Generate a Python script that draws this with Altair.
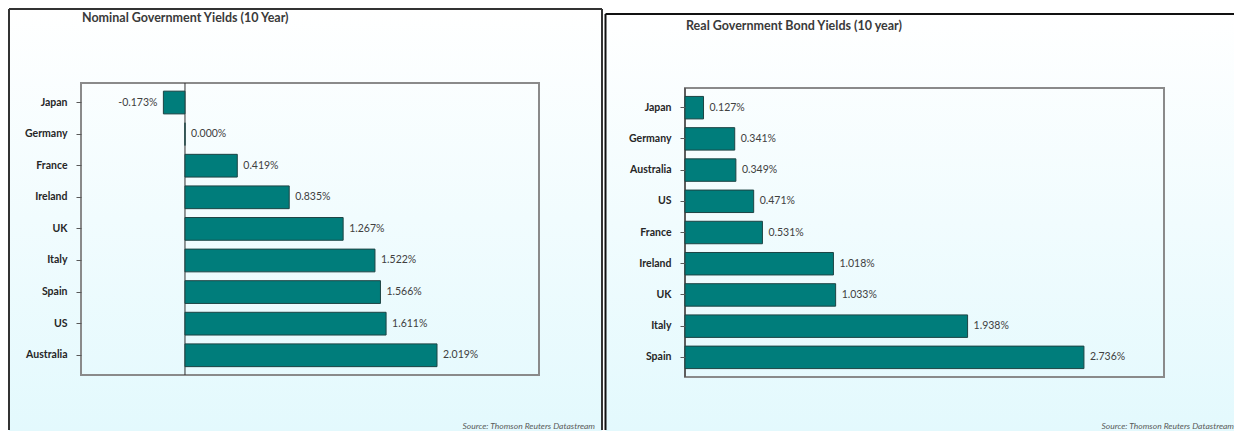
import altair as alt
import pandas as pd

# ---- data ----
nominal_countries = ["Japan", "Germany", "France", "Ireland", "UK", "Italy", "Spain", "US", "Australia"]
nominal_values = [-0.173, 0.000, 0.419, 0.835, 1.267, 1.522, 1.566, 1.611, 2.019]

real_countries = ["Japan", "Germany", "Australia", "US", "France", "Ireland", "UK", "Italy", "Spain"]
real_values = [0.127, 0.341, 0.349, 0.471, 0.531, 1.018, 1.033, 1.938, 2.736]

titles = ["Nominal Government Yields (10 Year)", "Real Government Bond Yields (10 year)"]
source_text = "Source: Thomson Reuters Datastream"

FONT = "Lato"
BAR_FILL = "#007d7b"
BAR_STROKE = "#1d4444"

gradient = alt.LinearGradient(
    gradient="linear",
    stops=[alt.GradientStop(color="#ffffff", offset=0),
           alt.GradientStop(color="#e3f9fd", offset=1)],
    x1=0, x2=0, y1=0, y2=1,
)


def one():
    return alt.Data(values=[{"k": 1, "zero": 0}])


def panel(countries, values, title, domain, W, H, box_top, box_bottom, pad_outer, band_align,
          frame_left, frame_top, frame_right, frame_color, right_edge_rule,
          title_y, source_x):
    df = pd.DataFrame({
        "country": countries,
        "value": values,
        "zero": [0.0] * len(values),
        "label": [f"{v:.3f}%" for v in values],
    })
    base = alt.Chart(df)
    y = alt.Y(
        "country:N", sort=countries, title=None,
        scale=alt.Scale(paddingInner=0.28, paddingOuter=pad_outer, align=band_align),
        axis=alt.Axis(domain=False, grid=False, ticks=True, tickSize=5, tickColor="#595959",
                      labelFont=FONT, labelFontWeight="bold", labelFontSize=10.5,
                      labelColor="#262626", labelPadding=9, zindex=1),
    )
    x = alt.X("value:Q", title=None, axis=None,
              scale=alt.Scale(domain=domain, nice=False, zero=False))

    bg = alt.Chart(one()).mark_rect(fill=gradient).encode(
        x=alt.value(frame_left), x2=alt.value(right_edge_rule),
        y=alt.value(frame_top), y2=alt.value(H + 54),
    )
    frame_lines = []
    frame_lines.append(alt.Chart(one()).mark_rule(color=frame_color, strokeWidth=2).encode(
        x=alt.value(frame_left), x2=alt.value(right_edge_rule),
        y=alt.value(frame_top), y2=alt.value(frame_top)))
    frame_lines.append(alt.Chart(one()).mark_rule(color=frame_color, strokeWidth=2).encode(
        x=alt.value(frame_left), x2=alt.value(frame_left),
        y=alt.value(frame_top), y2=alt.value(H + 53)))
    if frame_right is not None:
        frame_lines.append(alt.Chart(one()).mark_rule(color=frame_color, strokeWidth=2).encode(
            x=alt.value(frame_right), x2=alt.value(frame_right),
            y=alt.value(frame_top), y2=alt.value(H + 53)))

    title_mark = alt.Chart(one()).mark_text(
        text=title, font=FONT, fontWeight="bold", fontSize=12.5, color="#3a3a3a",
        align="left", baseline="middle",
    ).encode(x=alt.value(1), y=alt.value(title_y))

    src = alt.Chart(one()).mark_text(
        text=source_text, font=FONT, fontStyle="italic", fontSize=8.5, color="#595959",
        align="right", baseline="middle",
    ).encode(x=alt.value(source_x), y=alt.value(H + 49))

    box = alt.Chart(one()).mark_rect(fillOpacity=0, stroke="#8a8a8a", strokeWidth=2).encode(
        x=alt.value(0), x2=alt.value(W), y=alt.value(box_top), y2=alt.value(box_bottom))

    zero = alt.Chart(one()).mark_rule(color="#303030", strokeWidth=1).encode(
        x=alt.X("zero:Q", scale=alt.Scale(domain=domain, nice=False, zero=False), axis=None),
        y=alt.value(box_top), y2=alt.value(box_bottom))

    bars = base.mark_bar(fill=BAR_FILL, stroke=BAR_STROKE, strokeWidth=1).encode(
        x=x, x2="zero:Q", y=y)

    pos_lab = base.transform_filter("datum.value >= 0").mark_text(
        align="left", baseline="middle", dx=6, font=FONT, fontSize=10.5, color="#404040",
    ).encode(x=x, y=y, text="label:N")
    neg_lab = base.transform_filter("datum.value < 0").mark_text(
        align="right", baseline="middle", dx=-6, font=FONT, fontSize=10.5, color="#404040",
    ).encode(x=x, y=y, text="label:N")

    return alt.layer(bg, *frame_lines, title_mark, src, box, zero, bars, pos_lab, neg_lab).properties(
        width=W, height=H)


H = 294
p1 = panel(nominal_countries, nominal_values, titles[0], [-0.833, 2.836], 458, H, 0, 292, 0.293, 0.44,
           frame_left=-72, frame_top=-74, frame_right=521, frame_color="#333333",
           right_edge_rule=521, title_y=-65, source_x=514)
p2 = panel(real_countries, real_values, titles[1], [0, 3.285], 479, H, 5, 294, 0.35, 0.615,
           frame_left=-79.5, frame_top=-69, frame_right=None, frame_color="#111111",
           right_edge_rule=549, title_y=-57, source_x=549)

chart = alt.hconcat(p1, p2, spacing=146, bounds="flush").configure_view(stroke=None).properties(
    padding={"left": 8, "top": 8, "right": 0, "bottom": 0},
    background="white",
)

chart.save("out.html", embed_options={"renderer": "svg", "actions": False})
